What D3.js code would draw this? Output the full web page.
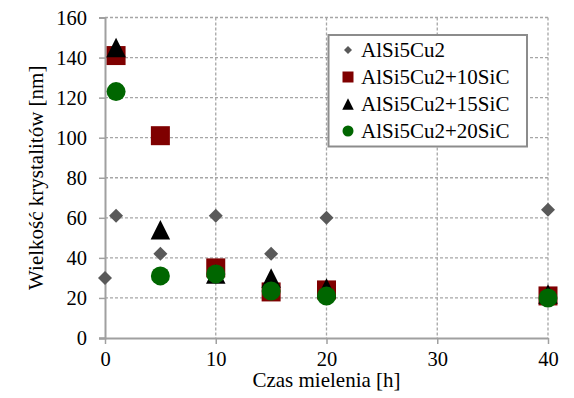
<!DOCTYPE html>
<html><head><meta charset="utf-8">
<script src="https://cdn.jsdelivr.net/npm/d3@7"></script>
<style>body{margin:0;background:#fff}svg{display:block}</style>
</head><body><svg id="c" width="574" height="398"></svg>
<script>
const seriesNames = ["AlSi5Cu2","AlSi5Cu2+10SiC","AlSi5Cu2+15SiC","AlSi5Cu2+20SiC"];
const timeBase = [0,1,5,10,15,20,40];
const valBase = [30,61,42,61,42,60,64];
const time10 = [1,5,10,15,20,40];
const val10 = [141,101,35,23,24,21];
const time15 = [1,5,10,15,20,40];
const val15 = [145,54,32,30,25,22];
const time20 = [1,5,10,15,20,40];
const val20 = [123,31,32,23.5,21,20];
const xTicks = [0,10,20,30,40];
const yTicks = [0,20,40,60,80,100,120,140,160];
const xTitle = "Czas mielenia [h]";
const yTitle = "Wielkość krystalitów [nm]";

const FONT = "'Liberation Serif', 'Times New Roman', serif";
const series = [
  {name:seriesNames[0], x:timeBase, y:valBase, shape:"diamond", color:"#595959"},
  {name:seriesNames[1], x:time10, y:val10, shape:"square", color:"#7f0000"},
  {name:seriesNames[2], x:time15, y:val15, shape:"triangle", color:"#000000"},
  {name:seriesNames[3], x:time20, y:val20, shape:"circle", color:"#006600"}
];

const svg = d3.select("#c");
const L=105, R=548, T=17.5, B=338;
const x = d3.scaleLinear().domain([0,40]).range([L,R]);
const y = d3.scaleLinear().domain([0,160]).range([B,T]);

const g = svg.append("g");
g.selectAll(".hg").data(yTicks.filter(d=>d>0)).join("line")
  .attr("x1",L).attr("x2",R).attr("y1",d=>y(d)).attr("y2",d=>y(d))
  .attr("stroke","#a6a6a6").attr("stroke-width",1.3).attr("stroke-dasharray","3,2");
g.selectAll(".vg").data(xTicks.filter(d=>d>0)).join("line")
  .attr("y1",T).attr("y2",B).attr("x1",d=>x(d)).attr("x2",d=>x(d))
  .attr("stroke","#a6a6a6").attr("stroke-width",1.3).attr("stroke-dasharray","3,2");

const xa = svg.append("g").attr("transform",`translate(0,${B})`)
  .call(d3.axisBottom(x).tickValues(xTicks).tickSize(6).tickPadding(7));
const ya = svg.append("g").attr("transform",`translate(${L},0)`)
  .call(d3.axisLeft(y).tickValues(yTicks).tickSize(6).tickPadding(12));
[xa,ya].forEach(a=>{
  a.attr("font-family",null).attr("font-size",null);
  a.select(".domain").attr("stroke","#a0a0a0").attr("stroke-width",2);
  a.selectAll(".tick line").attr("stroke","#a0a0a0").attr("stroke-width",1.5);
  a.selectAll("text").style("font-family",FONT).style("font-size","20.5px").attr("fill","#000");
});
xa.select(".domain").attr("d",`M${L-6},0.5H${R}`);

svg.append("text").attr("x",(L+R)/2).attr("y",387).attr("text-anchor","middle")
  .style("font-family",FONT).style("font-size","21px").text(xTitle);
svg.append("text").attr("transform",`translate(43,${(T+B)/2}) rotate(-90)`).attr("text-anchor","middle")
  .style("font-family",FONT).style("font-size","21px").text(yTitle);

function shapePath(shape, s){
  const h=s/2;
  if(shape==="diamond") return `M0,${-h}L${h},0L0,${h}L${-h},0Z`;
  if(shape==="square") return `M${-h},${-h}H${h}V${h}H${-h}Z`;
  if(shape==="triangle") return `M0,${-h}L${h},${h}L${-h},${h}Z`;
  const p=d3.path();p.arc(0,0,h,0,2*Math.PI);return p.toString();
}
const sizes = {diamond:14, square:19, triangle:19.5, circle:19};
const lsizes = {diamond:8, square:11, triangle:11.5, circle:11};

series.forEach(s=>{
  svg.append("g").selectAll("path").data(s.x.map((xv,i)=>[xv,s.y[i]])).join("path")
    .attr("transform",d=>`translate(${x(d[0])},${y(d[1])})`)
    .attr("d",shapePath(s.shape,sizes[s.shape])).attr("fill",s.color);
});

const lg = svg.append("g");
lg.append("rect").attr("x",328.5).attr("y",35).attr("width",198.5).attr("height",111.5)
  .attr("fill","#fff").attr("stroke","#8c8c8c").attr("stroke-width",2);
series.forEach((s,i)=>{
  const cy = 50 + i*27;
  lg.append("path").attr("transform",`translate(348,${cy})`).attr("d",shapePath(s.shape,lsizes[s.shape])).attr("fill",s.color);
  lg.append("text").attr("x",361).attr("y",cy+7).style("font-family",FONT).style("font-size","21px").attr("fill","#000").text(s.name);
});
</script></body></html>
